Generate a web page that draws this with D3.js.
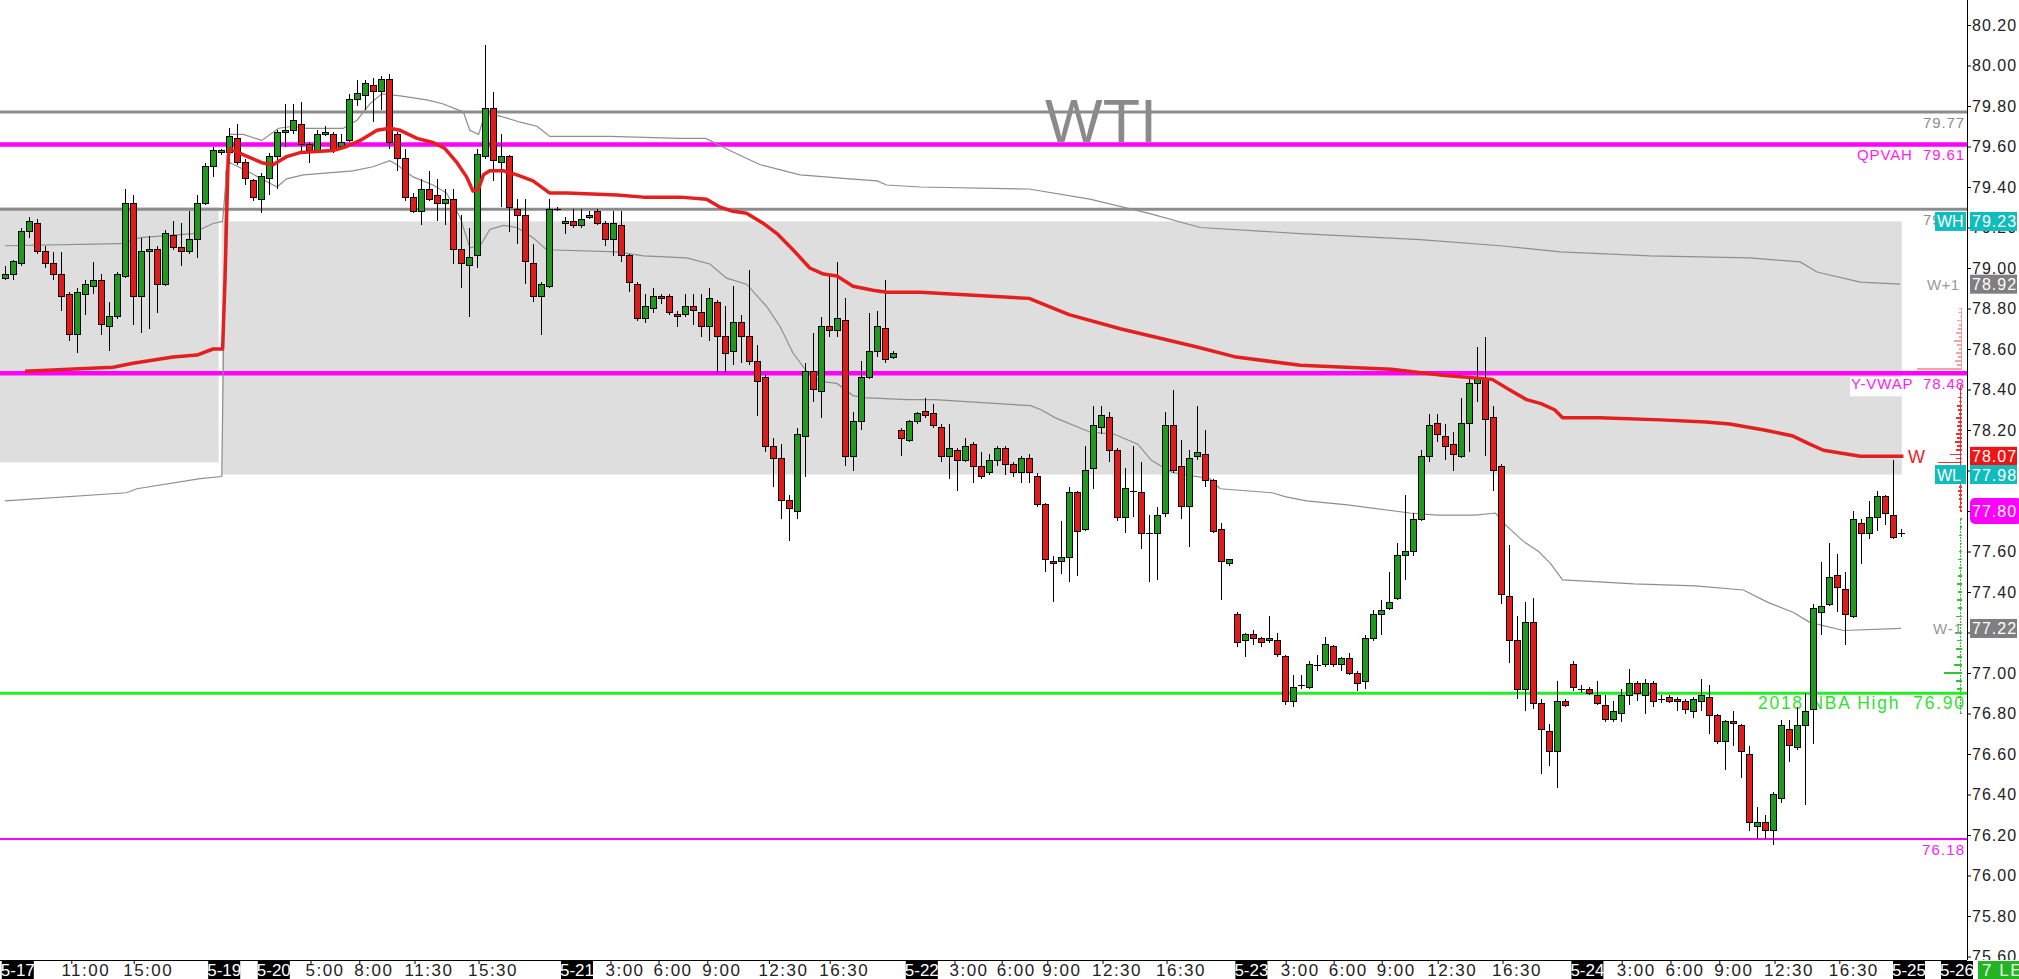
<!DOCTYPE html>
<html><head><meta charset="utf-8">
<script src="https://cdn.jsdelivr.net/npm/d3@7"></script>
<style>
html,body{margin:0;padding:0;background:#fff;overflow:hidden;}
svg{display:block;}
text{font-family:"Liberation Sans",Arial,sans-serif;white-space:pre;}
</style></head><body>
<svg id="c" width="2019" height="979"></svg>
<script>
// ---------------- DATA ----------------
const open = [78.95,78.97,79.02,79.18,79.22,79.08,79.02,78.97,78.87,78.67,78.87,78.91,78.94,78.71,78.76,78.96,79.32,78.86,79.08,79.09,78.92,79.16,79.10,79.08,79.14,79.32,79.50,79.57,79.57,79.64,79.52,79.43,79.34,79.44,79.55,79.67,79.68,79.71,79.61,79.58,79.66,79.66,79.60,79.63,79.83,79.85,79.90,79.87,79.93,79.66,79.54,79.35,79.28,79.39,79.36,79.32,79.34,79.09,79.01,79.06,79.55,79.79,79.52,79.55,79.29,79.26,79.02,78.86,78.91,79.29,79.22,79.23,79.21,79.25,79.28,79.22,79.14,79.21,79.06,78.92,78.75,78.80,78.86,78.86,78.77,78.77,78.81,78.78,78.71,78.83,78.66,78.59,78.73,78.66,78.54,78.46,78.12,78.06,77.85,77.80,78.17,78.49,78.39,78.71,78.69,78.74,78.07,78.24,78.46,78.59,78.70,78.56,78.20,78.15,78.24,78.29,78.28,78.21,78.07,78.10,78.05,78.13,78.02,77.99,78.05,78.11,78.03,77.99,78.06,77.97,77.83,77.55,77.55,77.57,77.89,77.71,78.01,78.21,78.26,78.10,77.77,77.90,77.89,77.69,77.69,77.79,78.22,78.02,77.82,78.07,78.08,77.95,77.71,77.54,77.29,77.16,77.19,77.17,77.16,77.16,77.08,76.86,76.94,76.93,77.04,77.04,77.13,77.04,77.07,77.00,76.96,77.17,77.29,77.32,77.37,77.58,77.60,77.76,78.07,78.23,78.17,78.13,78.07,78.23,78.43,78.45,78.26,78.02,77.38,77.16,76.92,77.25,76.85,76.71,76.61,76.86,77.04,76.92,76.92,76.89,76.84,76.77,76.80,76.89,76.95,76.89,76.95,76.87,76.88,76.87,76.86,76.81,76.86,76.88,76.79,76.66,76.76,76.74,76.60,76.24,76.26,76.22,76.38,76.72,76.63,76.74,76.82,77.30,77.34,77.48,77.41,77.28,77.74,77.69,77.77,77.87,77.78,77.69];
const high = [79.01,79.04,79.20,79.25,79.24,79.11,79.08,79.08,78.88,78.90,78.94,79.03,78.97,78.83,78.98,79.39,79.36,79.15,79.16,79.11,79.19,79.23,79.22,79.28,79.36,79.52,79.60,79.59,79.69,79.71,79.54,79.44,79.47,79.57,79.68,79.81,79.81,79.82,79.62,79.68,79.70,79.67,79.66,79.86,79.93,79.93,79.94,79.95,79.96,79.67,79.59,79.37,79.44,79.48,79.44,79.39,79.39,79.26,79.20,79.59,80.10,79.87,79.66,79.56,79.34,79.34,79.12,78.93,79.34,79.30,79.25,79.29,79.29,79.28,79.29,79.23,79.28,79.28,79.07,78.93,78.87,78.90,78.87,78.87,78.79,78.87,78.87,78.87,78.90,78.84,78.81,78.91,78.77,78.99,78.62,78.47,78.16,78.13,77.88,78.21,78.53,78.68,78.76,78.97,79.03,78.85,78.29,78.54,78.78,78.79,78.94,78.59,78.21,78.25,78.29,78.36,78.33,78.23,78.23,78.11,78.16,78.14,78.09,78.08,78.12,78.12,78.04,78.07,78.08,77.99,77.84,77.58,77.75,77.92,77.90,78.12,78.32,78.32,78.29,78.11,78.01,78.12,78.04,77.78,77.82,78.29,78.40,78.15,78.10,78.32,78.20,77.96,77.74,77.56,77.30,77.20,77.21,77.18,77.28,77.20,77.09,76.99,76.99,77.06,77.09,77.18,77.14,77.08,77.10,77.01,77.19,77.31,77.36,77.50,77.64,77.88,77.79,78.10,78.28,78.28,78.23,78.19,78.36,78.46,78.61,78.66,78.32,78.03,77.63,77.28,77.35,77.37,76.87,76.75,76.96,76.87,77.06,76.94,76.93,76.96,76.89,76.86,76.92,77.02,76.96,76.97,76.96,76.89,76.89,76.88,76.87,76.88,76.97,76.94,76.80,76.77,76.81,76.75,76.64,76.34,76.30,76.41,76.77,76.77,76.83,76.90,77.34,77.55,77.64,77.59,77.50,77.80,77.76,77.85,77.90,77.88,78.05,77.71];
const low = [78.94,78.94,79.01,79.15,79.07,79.00,78.94,78.79,78.64,78.58,78.77,78.87,78.67,78.59,78.75,78.95,78.72,78.68,78.70,78.78,78.91,79.09,79.01,79.07,79.05,79.31,79.45,79.56,79.52,79.51,79.41,79.33,79.27,79.36,79.39,79.60,79.66,79.58,79.52,79.57,79.65,79.57,79.59,79.62,79.80,79.78,79.72,79.78,79.59,79.48,79.33,79.27,79.21,79.33,79.23,79.21,79.02,78.90,78.76,79.00,79.54,79.43,79.30,79.18,79.12,78.92,78.83,78.67,78.90,79.28,79.17,79.20,79.20,79.24,79.21,79.11,79.06,79.03,78.88,78.74,78.73,78.78,78.82,78.77,78.71,78.76,78.72,78.66,78.64,78.48,78.48,78.52,78.53,78.52,78.27,78.09,77.92,77.76,77.65,77.76,77.97,78.34,78.26,78.66,78.66,78.02,78.00,78.20,78.45,78.56,78.53,78.55,78.07,78.14,78.23,78.26,78.21,78.04,77.96,77.90,78.04,77.94,77.96,77.98,78.02,77.98,77.97,77.94,77.94,77.82,77.50,77.35,77.49,77.45,77.48,77.70,77.91,78.18,78.04,77.75,77.69,77.77,77.61,77.45,77.46,77.77,77.99,77.76,77.62,78.05,77.92,77.69,77.36,77.53,77.13,77.08,77.14,77.13,77.15,77.08,76.84,76.83,76.92,76.92,77.01,77.03,77.03,77.01,76.99,76.91,76.92,77.16,77.19,77.31,77.36,77.46,77.58,77.75,78.04,78.14,78.05,78.00,78.06,78.09,78.34,78.07,77.90,77.34,77.05,76.87,76.81,76.82,76.50,76.54,76.43,76.83,76.91,76.90,76.89,76.84,76.76,76.76,76.76,76.84,76.86,76.80,76.83,76.85,76.85,76.81,76.80,76.78,76.81,76.70,76.65,76.52,76.64,76.48,76.22,76.18,76.18,76.15,76.36,76.56,76.62,76.35,76.65,77.19,77.33,77.30,77.14,77.27,77.54,77.66,77.70,77.73,77.66,77.67];
const close = [78.97,79.03,79.18,79.23,79.08,79.02,78.97,78.86,78.67,78.88,78.92,78.94,78.72,78.76,78.97,79.32,78.86,79.08,79.09,78.92,79.17,79.10,79.08,79.14,79.32,79.50,79.58,79.58,79.65,79.52,79.44,79.35,79.45,79.55,79.67,79.68,79.73,79.61,79.58,79.66,79.67,79.58,79.62,79.83,79.86,79.91,79.87,79.93,79.62,79.54,79.35,79.28,79.39,79.34,79.32,79.34,79.09,79.02,79.05,79.56,79.79,79.53,79.55,79.30,79.26,79.03,78.86,78.92,79.29,79.29,79.23,79.21,79.24,79.26,79.22,79.14,79.22,79.06,78.93,78.75,78.81,78.86,78.85,78.78,78.76,78.81,78.79,78.71,78.85,78.66,78.58,78.73,78.66,78.54,78.44,78.12,78.06,77.85,77.81,78.18,78.49,78.40,78.71,78.69,78.75,78.07,78.24,78.46,78.59,78.71,78.55,78.58,78.16,78.24,78.28,78.27,78.22,78.07,78.11,78.05,78.12,78.02,77.97,78.05,78.11,78.03,77.99,78.06,77.99,77.83,77.56,77.54,77.57,77.89,77.70,78.00,78.22,78.27,78.10,77.77,77.91,77.90,77.69,77.69,77.78,78.22,78.00,77.82,78.06,78.09,77.95,77.70,77.55,77.56,77.15,77.19,77.17,77.15,77.17,77.09,76.86,76.93,76.94,77.04,77.04,77.14,77.04,77.07,77.00,76.95,77.17,77.29,77.31,77.35,77.58,77.60,77.76,78.07,78.22,78.18,78.12,78.08,78.23,78.43,78.46,78.25,78.00,77.39,77.16,76.92,77.25,76.85,76.72,76.61,76.86,76.84,76.93,76.92,76.90,76.85,76.77,76.81,76.89,76.95,76.90,76.95,76.86,76.87,76.86,76.86,76.82,76.87,76.89,76.79,76.66,76.76,76.75,76.61,76.26,76.26,76.22,76.40,76.74,76.64,76.74,76.81,77.32,77.33,77.47,77.42,77.29,77.76,77.69,77.77,77.87,77.79,77.67,77.69];

// VWAP "W" line: [bar index, price]
const vwapW = [[2.5,78.49],[13.5,78.51],[16,78.53],[21,78.56],[24,78.57],[26,78.60],[27.2,78.60],[27.5,78.94],[27.9,79.55],[28.1,79.59],[29.75,79.56],[32.1,79.52],[33.5,79.51],[35.2,79.55],[36.9,79.57],[41,79.58],[42.7,79.60],[44.4,79.63],[46.5,79.68],[48.1,79.69],[49.4,79.68],[51.5,79.64],[53.5,79.62],[55,79.59],[56.5,79.52],[57.7,79.45],[58.5,79.38],[59.2,79.39],[59.8,79.46],[60.6,79.48],[62.3,79.48],[64,79.46],[66,79.43],[68.1,79.37],[70.2,79.37],[76.5,79.36],[79.8,79.35],[84.4,79.35],[87.7,79.34],[89.4,79.30],[91,79.28],[92.7,79.27],[94.8,79.22],[96.5,79.17],[98.5,79.09],[100.6,79.00],[102.3,78.97],[104,78.96],[106,78.91],[108.5,78.89],[110.2,78.88],[114.4,78.88],[128,78.85],[133,78.77],[139.4,78.70],[149,78.61],[153.9,78.56],[161.9,78.52],[173.3,78.50],[179.7,78.47],[185.9,78.45],[188,78.40],[190.2,78.35],[192,78.33],[193.7,78.30],[194.7,78.26],[199.3,78.26],[207,78.25],[212.6,78.24],[215.6,78.23],[219.9,78.20],[223.5,78.17],[225.6,78.13],[227.3,78.10],[231.9,78.07],[237.3,78.07]];
// Upper band "W+1"
const bandUp = [[0,79.11],[14.4,79.12],[16.9,79.15],[23.5,79.17],[24.4,79.19],[26,79.22],[27.2,79.23],[28.1,79.66],[29.8,79.66],[32.1,79.63],[34.2,79.69],[36,79.70],[37.7,79.69],[42.3,79.69],[44,79.73],[45.6,79.81],[47.1,79.86],[49.4,79.85],[52.7,79.83],[54.8,79.81],[57.3,79.77],[58.1,79.68],[59.2,79.66],[60,79.76],[61.9,79.75],[64.4,79.72],[66.5,79.70],[68.1,79.65],[75.6,79.65],[84.4,79.64],[87.6,79.64],[90.6,79.58],[94.4,79.51],[99.4,79.46],[105.6,79.44],[109,79.43],[110.2,79.41],[114.4,79.40],[128,79.39],[135.6,79.34],[143,79.27],[149.4,79.20],[161.9,79.17],[176.9,79.14],[186.9,79.11],[194.4,79.08],[205.6,79.06],[218.1,79.05],[224.4,79.03],[226.5,78.98],[231.9,78.93],[236.9,78.92]];
// Lower band "W-1"
const bandDn = [[0,77.85],[15.2,77.89],[16.5,77.91],[24.4,77.96],[27.1,77.97],[27.6,79.48],[28.1,79.52],[30.2,79.48],[34,79.40],[35.2,79.44],[37.3,79.46],[43.5,79.48],[46,79.50],[48.1,79.53],[49,79.51],[51,79.45],[53.5,79.41],[55.2,79.37],[56.9,79.25],[58.1,79.10],[59.4,79.11],[60.6,79.19],[62.3,79.21],[64,79.20],[66,79.15],[67.7,79.09],[76.5,79.08],[79.8,79.06],[85.2,79.05],[88.1,79.02],[90.2,78.95],[92.7,78.92],[95.2,78.81],[96.9,78.71],[98.5,78.58],[100.2,78.49],[101.9,78.44],[104,78.43],[106,78.37],[107.3,78.36],[112.7,78.35],[116.2,78.35],[128.2,78.32],[129.5,78.30],[131.3,78.26],[135.6,78.19],[138.6,78.18],[141.6,78.13],[143.3,78.05],[145.9,77.99],[150.6,77.96],[151.9,77.91],[158.4,77.89],[160.1,77.87],[162.7,77.85],[167.8,77.83],[175.6,77.79],[179,77.78],[183.75,77.78],[186.3,77.79],[187.6,77.73],[189.8,77.65],[191.7,77.60],[193.2,77.54],[194.7,77.46],[199.3,77.45],[203.6,77.44],[211.3,77.43],[217.3,77.41],[220.3,77.35],[223.5,77.30],[225.6,77.25],[229.8,77.21],[237,77.22]];

// Shaded ranges [fromIndex, toIndex, high, low]
const zones = [[-0.4,27.2,79.30,78.04],[27.6,237.6,79.23,77.98]];

// Horizontal levels
const levelPrices = [79.77, 79.61, 79.29, 78.48, 76.90, 76.18];
const levelLabels = ["79.77", "QPVAH  79.61", "79.29", "Y-VWAP  78.48", "2018 NBA High  76.90", "76.18"];

// Price axis ticks
const yTicks = [75.6,75.8,76.0,76.2,76.4,76.6,76.8,77.0,77.2,77.4,77.6,77.8,78.0,78.2,78.4,78.6,78.8,79.0,79.2,79.4,79.6,79.8,80.0,80.2];

// Price markers on axis
const markPrices = [79.23, 78.92, 78.07, 77.98, 77.80, 77.22];
const markTags = ["WH", "", "", "WL", "", ""];

// Time-axis labels [bar index, text, isDate]
const timeLabels = [[1.6,"5-17",1],[10.1,"11:00",0],[17.9,"15:00",0],[27.4,"5-19",1],[33.6,"5-20",1],[40,"5:00",0],[46.1,"8:00",0],[53,"11:30",0],[61,"15:30",0],[71.5,"5-21",1],[77.5,"3:00",0],[83.5,"6:00",0],[89.6,"9:00",0],[97.3,"12:30",0],[104.9,"16:30",0],[114.6,"5-22",1],[120.5,"3:00",0],[126.4,"6:00",0],[132.1,"9:00",0],[139,"12:30",0],[147,"16:30",0],[155.8,"5-23",1],[161.9,"3:00",0],[167.9,"6:00",0],[173.9,"9:00",0],[180.9,"12:30",0],[189,"16:30",0],[197.8,"5-24",1],[203.9,"3:00",0],[210,"6:00",0],[216.1,"9:00",0],[223,"12:30",0],[231.1,"16:30",0],[238,"5-25",1],[244,"5-26",1]];

// Volume profile (price, size)
const vpPrice = [78.80,78.78,78.76,78.74,78.72,78.70,78.68,78.66,78.64,78.62,78.60,78.58,78.56,78.54,78.52,78.50,
 78.42,78.40,78.38,78.36,78.34,78.32,78.30,78.28,78.26,78.24,78.22,78.20,78.18,78.16,78.14,78.12,78.10,78.08,78.06,78.04,78.02,78.00,77.98,77.96,77.94,77.92,77.90,77.88,77.86,77.84,77.82,77.80,
 77.76,77.72,77.68,77.64,77.60,77.56,77.52,77.48,77.44,77.40,77.36,77.32,77.28,77.24,77.20,77.16,77.12,77.08,77.04,77.00,76.96,76.92,76.88,76.84,76.80];
const vpSize = [3,4,2,5,3,4,6,3,8,5,3,6,4,7,5,45,
 2,3,2,4,3,5,4,3,6,4,5,4,6,5,7,5,6,12,6,24,7,5,6,4,5,3,4,3,3,2,3,2,
 2,2,3,2,3,4,3,4,5,4,5,4,6,5,7,5,6,5,8,18,6,5,4,3,2];

// ---------------- DRAW ----------------
const W = 2019, H = 979, axisX = 1967, axisY = 960;
const svg = d3.select("#c");
const x = d3.scaleLinear().domain([0, 237]).range([5, 1901]);
const y = d3.scaleLinear().domain([75.6, 80.2]).range([956.5, 25]);

svg.append("rect").attr("width", W).attr("height", H).attr("fill", "#fff");

// top-left cut-off title fragments
svg.append("text").attr("x", 20).attr("y", -3).attr("font-size", 16).attr("fill", "#2db82d").text("Setting");
svg.append("text").attr("x", 221).attr("y", -3).attr("font-size", 16).attr("fill", "#888").text("(Weekly)");

// zones
svg.append("g").selectAll("rect").data(zones).join("rect")
  .attr("x", d => x(d[0]) - 4).attr("width", d => x(d[1]) - x(d[0]))
  .attr("y", d => y(d[2])).attr("height", d => y(d[3]) - y(d[2]))
  .attr("fill", "#dedede");

// WTI watermark
svg.append("text").attr("x", 1101).attr("y", 142).attr("text-anchor", "middle")
  .attr("font-size", 61).attr("fill", "#8a8a8a").text("WTI");

// level lines
const levelColor = ["#8c8c8c", "#ff00ff", "#8c8c8c", "#ff00ff", "#22ee22", "#ff00ff"];
const levelWidth = [3, 4.5, 3, 4.5, 2.8, 2];
const lv = svg.append("g");
levelPrices.forEach((p, k) => {
  lv.append("line").attr("x1", 0).attr("x2", axisX).attr("y1", y(p)).attr("y2", y(p))
    .attr("stroke", levelColor[k]).attr("stroke-width", levelWidth[k]);
});

// bands and vwap
const line = d3.line().x(d => x(d[0])).y(d => y(d[1]));
svg.append("path").datum(bandUp).attr("d", line).attr("fill", "none").attr("stroke", "#8e8e8e").attr("stroke-width", 1.2);
svg.append("path").datum(bandDn).attr("d", line).attr("fill", "none").attr("stroke", "#8e8e8e").attr("stroke-width", 1.2);

// level labels (under candles)
const labelColor = ["#8c8c8c", "#ff22ee", "#8c8c8c", "#ff22ee", "#33e033", "#ff22ee"];
const labelSize = [15, 15, 15, 15, 17.5, 15];
const labelLen = [41, 107, 41, 113, 206, 42];
levelPrices.forEach((p, k) => {
  if (k === 3) {
    svg.append("rect").attr("x", 1850).attr("y", y(p) + 4).attr("width", 115).attr("height", 19).attr("fill", "#fff");
  }
  svg.append("text").attr("x", 1964).attr("y", y(p) + 16).attr("text-anchor", "end")
    .attr("xml:space", "preserve")
    .attr("textLength", labelLen[k]).attr("lengthAdjust", "spacing")
    .attr("font-size", labelSize[k])
    .attr("fill", labelColor[k]).text(levelLabels[k]);
});

// candles
const bars = d3.range(open.length).map(i => ({i, o: open[i], h: high[i], l: low[i], c: close[i]}));
const cg = svg.append("g").attr("shape-rendering", "crispEdges");
cg.selectAll("line.w").data(bars).join("line").attr("class", "w")
  .attr("x1", d => Math.round(x(d.i)) + 0.5).attr("x2", d => Math.round(x(d.i)) + 0.5)
  .attr("y1", d => y(d.h)).attr("y2", d => y(d.l)).attr("stroke", "#000").attr("stroke-width", 1);
cg.selectAll("rect.b").data(bars.filter(d => Math.abs(d.o - d.c) >= 0.005)).join("rect").attr("class", "b")
  .attr("x", d => Math.round(x(d.i)) - 2.5).attr("width", 6)
  .attr("y", d => y(Math.max(d.o, d.c))).attr("height", d => Math.max(1, Math.abs(y(d.o) - y(d.c))))
  .attr("fill", d => d.c > d.o ? "#1f9a1f" : "#e31a1a").attr("stroke", "#000").attr("stroke-width", 1);
cg.selectAll("line.d").data(bars.filter(d => Math.abs(d.o - d.c) < 0.005)).join("line").attr("class", "d")
  .attr("x1", d => Math.round(x(d.i)) - 3).attr("x2", d => Math.round(x(d.i)) + 4)
  .attr("y1", d => Math.round(y(d.o)) + 0.5).attr("y2", d => Math.round(y(d.o)) + 0.5)
  .attr("stroke", "#000").attr("stroke-width", 1.5);

// VWAP W line
svg.append("path").datum(vwapW).attr("d", line).attr("fill", "none").attr("stroke", "#e3201e")
  .attr("stroke-width", 3.5).attr("stroke-linejoin", "round");

// band / vwap labels
svg.append("text").attr("x", 1908).attr("y", y(78.07) + 7).attr("font-size", 18).attr("fill", "#ee2222").text("W");
svg.append("text").attr("x", 1959).attr("y", y(78.92) + 6).attr("text-anchor", "end").attr("font-size", 15)
  .attr("textLength", 32).attr("lengthAdjust", "spacing").attr("fill", "#999").text("W+1");
svg.append("text").attr("x", 1962).attr("y", y(77.22) + 6).attr("text-anchor", "end").attr("font-size", 15)
  .attr("textLength", 29).attr("lengthAdjust", "spacing").attr("fill", "#999").text("W-1");

// volume profile
const vpg = svg.append("g").attr("shape-rendering", "crispEdges");
vpPrice.forEach((p, k) => {
  const col = p > 78.45 ? "#f4a3a3" : (p > 77.78 ? "#ee3030" : "#33c433");
  vpg.append("rect").attr("x", 1962 - vpSize[k]).attr("y", y(p) - 0.8).attr("width", vpSize[k]).attr("height", 1.6).attr("fill", col);
});
vpg.append("line").attr("x1", 1961.5).attr("x2", 1961.5).attr("y1", y(78.80)).attr("y2", y(78.50)).attr("stroke", "#f4a3a3");
vpg.append("line").attr("x1", 1960.5).attr("x2", 1960.5).attr("y1", y(78.42)).attr("y2", y(77.80)).attr("stroke", "#ee3030");
vpg.append("line").attr("x1", 1960.5).attr("x2", 1960.5).attr("y1", y(77.76)).attr("y2", y(76.80)).attr("stroke", "#33c433").attr("stroke-dasharray", "2,1");

// right axis
const ax = svg.append("g").attr("transform", `translate(${axisX},0)`)
  .call(d3.axisRight(y).tickValues(yTicks).tickFormat(d3.format(".2f")).tickSize(4).tickPadding(1).tickSizeOuter(0));
ax.select(".domain").remove();
ax.selectAll("text").attr("font-size", 16).attr("letter-spacing", 1).attr("fill", "#222")
  .attr("font-family", "Liberation Sans, Arial, sans-serif");
ax.selectAll("line").attr("stroke", "#000");
svg.append("line").attr("x1", axisX + 0.5).attr("x2", axisX + 0.5).attr("y1", 0).attr("y2", axisY).attr("stroke", "#000");

// axis price markers
const markColor = ["#10bcbc", "#7f7f7f", "#f01414", "#10bcbc", "#ff00ff", "#7f7f7f"];
markPrices.forEach((p, k) => {
  const cy = y(p);
  const h = k === 4 ? 26 : 19;
  svg.append("rect").attr("x", 1970).attr("y", cy - h / 2).attr("width", k === 4 ? 52 : 47).attr("height", h)
    .attr("rx", k === 4 ? 5 : 0).attr("fill", markColor[k]);
  svg.append("text").attr("x", 1972).attr("y", cy + 6).attr("font-size", 16).attr("letter-spacing", 1)
    .attr("fill", "#fff").text(p.toFixed(2));
  if (markTags[k]) {
    svg.append("rect").attr("x", 1935).attr("y", cy - 9.5).attr("width", 31).attr("height", 19).attr("fill", markColor[k]);
    svg.append("text").attr("x", 1937).attr("y", cy + 6).attr("font-size", 16).attr("fill", "#fff").text(markTags[k]);
  }
});

// bottom axis strip
svg.append("rect").attr("x", 0).attr("y", axisY).attr("width", W).attr("height", H - axisY).attr("fill", "#fff");
svg.append("line").attr("x1", 0).attr("x2", axisX).attr("y1", axisY + 0.5).attr("y2", axisY + 0.5).attr("stroke", "#000");
const tg = svg.append("g");
timeLabels.forEach(t => {
  const cx = x(t[0]);
  if (t[2]) {
    tg.append("rect").attr("x", cx - 16).attr("y", 961).attr("width", 32).attr("height", 18).attr("fill", "#000");
    tg.append("text").attr("x", cx).attr("y", 976).attr("text-anchor", "middle").attr("font-size", 17)
      .attr("font-family", "Liberation Sans Narrow, DejaVu Sans Condensed, sans-serif").attr("fill", "#fff").text(t[1]);
  } else {
    tg.append("line").attr("x1", cx - 14).attr("x2", cx - 14).attr("y1", 960).attr("y2", 964).attr("stroke", "#000");
    tg.append("text").attr("x", cx).attr("y", 976).attr("text-anchor", "middle").attr("font-size", 17).attr("letter-spacing", 1.5)
      .attr("font-family", "Liberation Sans Narrow, DejaVu Sans Condensed, sans-serif").attr("fill", "#222").text(t[1]);
  }
});
svg.append("rect").attr("x", 1978).attr("y", 961).attr("width", 41).attr("height", 18).attr("fill", "#22b422");
svg.append("text").attr("x", 1982).attr("y", 976).attr("font-size", 17).attr("letter-spacing", 1.5)
  .attr("font-family", "Liberation Sans Narrow, DejaVu Sans Condensed, sans-serif").attr("fill", "#e8ffe8").text("7 LE");
</script>
</body></html>
